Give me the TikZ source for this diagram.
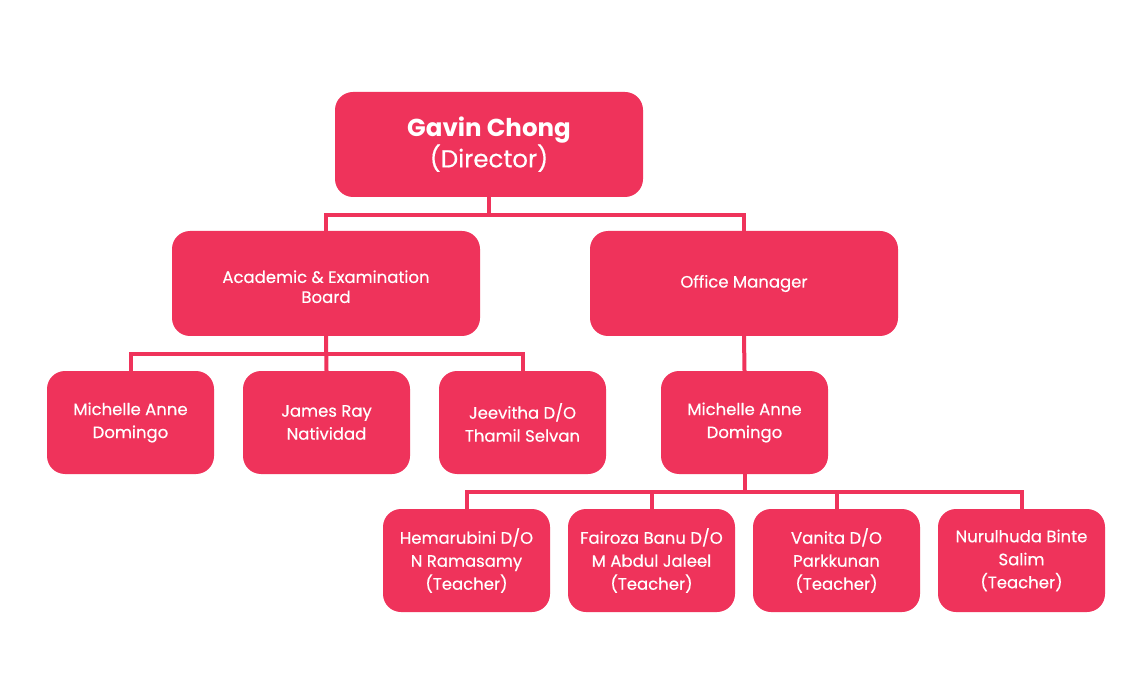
\documentclass[tikz,border=0pt]{standalone}
\usepackage{fontspec}
\setmainfont{Poppins}
\newfontfamily\medfont{Poppins}[FakeBold=0.4]
\definecolor{brand}{HTML}{EF335B}
\begin{document}
\begin{tikzpicture}[x=1pt,y=-1pt,
  box/.style={fill=brand, rounded corners=18pt, text=white, align=center, inner sep=0pt,
    font=\medfont\fontsize{16.5}{23}\selectfont},
  big/.style={box, minimum width=308pt, minimum height=105pt},
  small/.style={box, minimum width=167pt, minimum height=103pt},
  link/.style={draw=brand, line width=4pt, line join=miter}]
\useasboundingbox (0,0) rectangle (1140,700);
% level 1
\node[big] (dir) at (489,144.5) {{\fontsize{24.5}{31}\selectfont\rmfamily\bfseries Gavin Chong}\\{\fontsize{24.5}{31}\selectfont (Director)}};
% level 2
\node[big, font=\medfont\fontsize{16.5}{20}\selectfont] (acad) at (326,283.5) {\rule{0pt}{19pt}Academic \& Examination\\Board};
\node[big] (off) at (744,283.5) {Office Manager};
% level 3
\node[small] (m1) at (130.5,422.5) {Michelle Anne\\Domingo};
\node[small] (jr) at (326.5,422.5) {James Ray\\Natividad};
\node[small] (jv) at (522.5,422.5) {Jeevitha D/O\\Thamil Selvan};
\node[small] (m2) at (744.5,422.5) {Michelle Anne\\Domingo};
% level 4
\node[small] (t1) at (466.5,560.5) {Hemarubini D/O\\N Ramasamy\\(Teacher)};
\node[small] (t2) at (651.5,560.5) {Fairoza Banu D/O\\M Abdul Jaleel\\(Teacher)};
\node[small] (t3) at (836.5,560.5) {Vanita D/O\\Parkkunan\\(Teacher)};
\node[small] (t4) at (1021.5,560.5) {Nurulhuda Binte\\Salim\\(Teacher)};
% junctions
\coordinate (j1) at (489,215);
\coordinate (j2) at (326,354);
\coordinate (j3) at (744.5,492);
% connectors
\draw[link] (dir.south) -- (j1);
\draw[link] (acad.north) |- (j1) -| (off.north);
\draw[link] (acad.south) -- (jr.north);
\draw[link] (m1.north) |- (j2) -| (jv.north);
\draw[link] (off.south) -- (m2.north);
\draw[link] (m2.south) -- (j3);
\draw[link] (t1.north) |- (j3) -| (t4.north);
\draw[link] (t2.north) -- (t2.north |- j3);
\draw[link] (t3.north) -- (t3.north |- j3);
\end{tikzpicture}
\end{document}
